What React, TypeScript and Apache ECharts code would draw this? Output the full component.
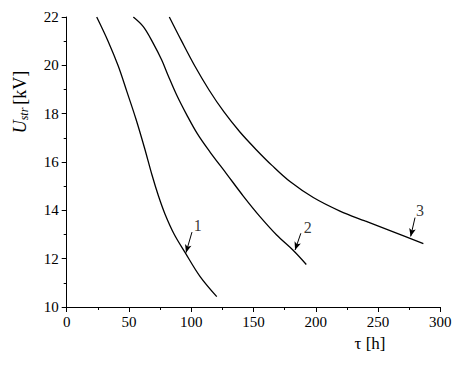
import React, { useEffect, useRef } from "react";
import * as echarts from "echarts";

const curve1: [number, number][] = [
  [24.1, 22.0], [33.4, 20.98], [41.4, 19.97], [48.4, 18.9], [55.6, 17.78],
  [62.5, 16.58], [68.5, 15.46], [73.7, 14.59], [78.9, 13.85], [86.2, 13.02],
  [95.0, 12.26], [107.0, 11.27], [120.5, 10.43],
];
const curve2: [number, number][] = [
  [53.5, 22.0], [61.5, 21.6], [69.5, 20.91], [76.3, 20.22], [81.6, 19.56],
  [88.3, 18.77], [96.4, 17.95], [105.0, 17.16], [115.1, 16.41], [128.5, 15.5],
  [141.8, 14.59], [155.2, 13.74], [168.6, 12.98], [182.0, 12.34], [192.4, 11.76],
];
const curve3: [number, number][] = [
  [82.4, 22.0], [92.2, 21.01], [103.0, 19.96], [114.3, 18.98], [126.3, 18.07],
  [139.1, 17.24], [152.0, 16.52], [164.8, 15.86], [179.3, 15.19], [198.0, 14.53],
  [219.4, 13.97], [239.5, 13.56], [261.2, 13.13], [286.4, 12.62],
];
const curveNames = ["1", "2", "3"];
const labelPos: [number, number][] = [[105.2, 13.39], [193.6, 13.28], [283.7, 14.01]];
const arrowFrom: [number, number][] = [[100.6, 13.1], [188.0, 13.05], [279.7, 13.7]];
const arrowTo: [number, number][] = [[95.8, 12.25], [183.4, 12.36], [276.2, 12.92]];

const FONT = "Liberation Serif";

export default function App() {
  const ref = useRef<HTMLDivElement>(null);
  useEffect(() => {
    if (!ref.current) return;
    const chart = echarts.init(ref.current, undefined, { renderer: "svg" });
    const curves = [curve1, curve2, curve3];
    const lineSeries = curves.map((c, i) => ({
      type: "line",
      name: curveNames[i],
      data: c,
      smooth: 0.35,
      showSymbol: false,
      symbol: "none",
      lineStyle: { color: "#000", width: 1.3 },
      markLine: {
        silent: true,
        symbol: ["none", "arrow"],
        symbolSize: [5, 8],
        label: { show: false },
        lineStyle: { color: "#000", width: 1, type: "solid" },
        data: [[{ coord: arrowFrom[i] }, { coord: arrowTo[i] }]],
      },
    }));
    chart.setOption({
      animation: false,
      backgroundColor: "#fff",
      grid: { left: 66.7, right: 23.7, top: 17, bottom: 69 },
      xAxis: {
        type: "value",
        min: 0,
        max: 300,
        interval: 50,
        axisLine: { show: true, lineStyle: { color: "#000", width: 1 } },
        axisTick: { show: true, inside: false, length: 5, lineStyle: { color: "#000" } },
        minorTick: { show: true, splitNumber: 2, length: 3, lineStyle: { color: "#000" } },
        splitLine: { show: false },
        axisLabel: { color: "#000", fontFamily: FONT, fontSize: 15, margin: 7 },
      },
      yAxis: {
        type: "value",
        min: 10,
        max: 22,
        interval: 2,
        axisLine: { show: true, lineStyle: { color: "#000", width: 1 } },
        axisTick: { show: true, inside: false, length: 5, lineStyle: { color: "#000" } },
        minorTick: { show: true, splitNumber: 2, length: 3, lineStyle: { color: "#000" } },
        splitLine: { show: false },
        axisLabel: { color: "#000", fontFamily: FONT, fontSize: 15, margin: 8 },
      },
      graphic: [
        {
          type: "text",
          x: 20,
          y: 102,
          rotation: Math.PI / 2,
          style: {
            text: "{u|U}{s|str} {n|[kV]}",
            fill: "#000",
            fontFamily: FONT,
            align: "center",
            verticalAlign: "middle",
            rich: {
              u: { fontFamily: FONT, fontSize: 18, fontStyle: "italic", fill: "#000" },
              s: { fontFamily: FONT, fontSize: 12, fontStyle: "italic", fill: "#000", padding: [8, 0, 0, 0] },
              n: { fontFamily: FONT, fontSize: 18, fill: "#000" },
            },
          },
        },
        {
          type: "text",
          x: 370,
          y: 343,
          style: {
            text: "τ [h]",
            fill: "#000",
            fontFamily: FONT,
            fontSize: 17,
            align: "center",
            verticalAlign: "middle",
          },
        },
      ],
      series: [
        ...lineSeries,
        {
          type: "scatter",
          name: "labels",
          symbolSize: 0,
          silent: true,
          data: labelPos.map((p, i) => ({ value: p, name: curveNames[i] })),
          label: {
            show: true,
            position: "inside",
            formatter: (p: any) => p.name,
            color: "#000",
            fontFamily: FONT,
            fontSize: 16,
          },
        },
      ],
    });
    return () => chart.dispose();
  }, []);
  return <div ref={ref} style={{ width: 464, height: 376, position: "absolute", left: 0, top: 0 }} />;
}
